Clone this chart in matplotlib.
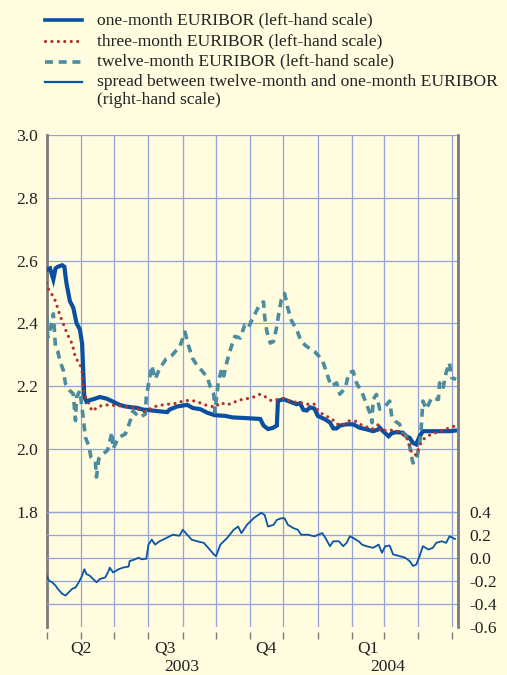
import numpy as np
import matplotlib
matplotlib.use('Agg')
import matplotlib.pyplot as plt
import matplotlib.dates as mdates
from matplotlib.lines import Line2D
from matplotlib.ticker import NullFormatter
from matplotlib.transforms import blended_transform_factory

plt.rcParams['font.family'] = ['Liberation Serif', 'DejaVu Serif']

# ---------------- data (days counted from 1 May 2003) ----------------
start = np.datetime64('2003-05-01')
end_date = np.datetime64('2004-05-07')

one_days = [0, 3, 6, 8, 10, 14, 16, 17, 18, 21,
            24, 27, 30, 32, 33, 34, 36, 39, 44, 48,
            54, 60, 66, 71, 75, 82, 87, 93, 100, 109,
            111, 118, 127, 132, 139, 145, 152, 161, 168, 184,
            193, 196, 200, 204, 208, 209, 214, 220, 226, 229,
            232, 235, 238, 242, 245, 251, 256, 259, 262, 265,
            271, 277, 283, 289, 295, 300, 301, 304, 309, 312,
            316, 322, 325, 328, 331, 334, 337, 340, 346, 355,
            364, 369]
one_vals = [2.57, 2.575, 2.54, 2.575, 2.58, 2.585, 2.58, 2.55, 2.525, 2.47,
            2.45, 2.40, 2.38, 2.335, 2.25, 2.165, 2.15, 2.155, 2.16, 2.165,
            2.16, 2.15, 2.14, 2.135, 2.133, 2.13, 2.125, 2.123, 2.12, 2.117,
            2.125, 2.135, 2.14, 2.13, 2.126, 2.115, 2.107, 2.105, 2.10, 2.097,
            2.095, 2.074, 2.063, 2.066, 2.074, 2.153, 2.158, 2.15, 2.142, 2.145,
            2.124, 2.122, 2.132, 2.128, 2.105, 2.095, 2.084, 2.065, 2.065, 2.074,
            2.078, 2.078, 2.067, 2.062, 2.056, 2.062, 2.067, 2.056, 2.04, 2.05,
            2.053, 2.051, 2.04, 2.035, 2.019, 2.014, 2.04, 2.056, 2.056, 2.056,
            2.056, 2.058]

three_days = [0, 2, 5, 8, 12, 17, 20, 23, 26, 30,
              32, 33, 35, 38, 41, 47, 53, 63, 71, 81,
              87, 98, 105, 117, 123, 130, 136, 143, 152, 157,
              163, 169, 173, 179, 187, 193, 199, 203, 209, 215,
              221, 229, 235, 242, 245, 251, 258, 262, 268, 273,
              279, 285, 289, 294, 300, 302, 307, 312, 318, 322,
              325, 328, 330, 334, 337, 339, 343, 349, 357, 364,
              370]
three_vals = [2.528, 2.505, 2.49, 2.47, 2.425, 2.38, 2.355, 2.335, 2.29, 2.27,
              2.245, 2.19, 2.165, 2.145, 2.12, 2.135, 2.14, 2.138, 2.135, 2.13,
              2.117, 2.135, 2.14, 2.145, 2.152, 2.155, 2.15, 2.14, 2.133, 2.147,
              2.14, 2.147, 2.155, 2.158, 2.165, 2.174, 2.163, 2.153, 2.157, 2.161,
              2.15, 2.147, 2.142, 2.142, 2.121, 2.107, 2.095, 2.079, 2.076, 2.089,
              2.088, 2.075, 2.07, 2.062, 2.078, 2.055, 2.06, 2.059, 2.055, 2.044,
              2.04, 2.009, 1.985, 1.98, 2.009, 2.025, 2.038, 2.049, 2.056, 2.067,
              2.074]

twelve_days = [0, 1, 5, 6, 7, 8, 10, 12, 15, 17,
               21, 24, 26, 27, 30, 33, 35, 38, 40, 44,
               45, 47, 51, 55, 59, 60, 65, 71, 75, 78,
               81, 84, 89, 90, 92, 95, 98, 102, 108, 113,
               117, 120, 125, 128, 132, 137, 140, 145, 148, 151,
               152, 155, 158, 160, 163, 166, 170, 175, 179, 182,
               187, 193, 196, 197, 199, 202, 205, 208, 210, 212,
               215, 218, 221, 226, 230, 235, 242, 249, 253, 257,
               262, 265, 270, 273, 277, 280, 285, 288, 292, 294,
               295, 298, 301, 306, 310, 312, 315, 319, 322, 327,
               329, 331, 334, 336, 338, 340, 343, 348, 354, 355,
               358, 361, 364, 366, 370]
twelve_vals = [2.42, 2.355, 2.405, 2.43, 2.375, 2.32, 2.31, 2.28, 2.25, 2.207,
               2.185, 2.175, 2.09, 2.165, 2.185, 2.1, 2.036, 2.01, 1.973, 1.96,
               1.91, 1.968, 1.984, 1.995, 2.053, 2.0, 2.036, 2.047, 2.084, 2.12,
               2.11, 2.1, 2.11, 2.164, 2.206, 2.265, 2.222, 2.255, 2.287, 2.297,
               2.313, 2.323, 2.372, 2.33, 2.287, 2.26, 2.25, 2.228, 2.197, 2.174,
               2.116, 2.21, 2.253, 2.232, 2.279, 2.316, 2.358, 2.353, 2.395, 2.385,
               2.421, 2.463, 2.468, 2.42, 2.374, 2.337, 2.342, 2.39, 2.437, 2.474,
               2.495, 2.447, 2.41, 2.379, 2.342, 2.326, 2.31, 2.284, 2.242, 2.2,
               2.21, 2.174, 2.195, 2.242, 2.247, 2.21, 2.179, 2.152, 2.115, 2.083,
               2.157, 2.173, 2.126, 2.136, 2.152, 2.099, 2.088, 2.078, 2.051, 2.03,
               1.987, 1.955, 1.96, 1.998, 2.04, 2.152, 2.126, 2.163, 2.157, 2.21,
               2.19, 2.243, 2.274, 2.227, 2.221]

spread_days = [0, 2, 5, 8, 10, 14, 17, 20, 23, 26,
               29, 32, 34, 36, 39, 42, 45, 48, 53, 56,
               57, 60, 65, 69, 74, 75, 80, 83, 86, 90,
               92, 95, 98, 102, 108, 114, 120, 123, 127, 131,
               136, 142, 146, 151, 153, 157, 163, 169, 173, 176,
               181, 187, 191, 194, 197, 200, 205, 208, 212, 215,
               218, 223, 227, 230, 236, 242, 249, 252, 256, 259,
               264, 268, 271, 274, 277, 282, 285, 289, 295, 300,
               303, 306, 310, 313, 319, 324, 328, 331, 334, 337,
               340, 345, 349, 352, 357, 361, 364, 369]
spread_vals = [-0.157, -0.2, -0.214, -0.243, -0.271, -0.314, -0.329, -0.3, -0.271, -0.26,
               -0.214, -0.157, -0.1, -0.143, -0.157, -0.186, -0.214, -0.186, -0.171, -0.114,
               -0.086, -0.129, -0.1, -0.086, -0.077, -0.029, -0.014, 0.0, -0.014, -0.009,
               0.114, 0.157, 0.114, 0.143, 0.171, 0.2, 0.191, 0.243, 0.2, 0.157,
               0.143, 0.129, 0.086, 0.029, 0.014, 0.114, 0.171, 0.243, 0.271, 0.214,
               0.286, 0.343, 0.371, 0.391, 0.371, 0.271, 0.286, 0.329, 0.343, 0.343,
               0.286, 0.257, 0.243, 0.2, 0.2, 0.186, 0.214, 0.171, 0.1, 0.143,
               0.143, 0.1, 0.129, 0.186, 0.171, 0.143, 0.114, 0.1, 0.086, 0.114,
               0.043, 0.1, 0.106, 0.029, 0.014, 0.0, -0.029, -0.071, -0.06, 0.014,
               0.1, 0.071, 0.086, 0.129, 0.143, 0.129, 0.186, 0.163]

left_ticks = [1.8, 2.0, 2.2, 2.4, 2.6, 2.8, 3.0]
right_ticks = [-0.6, -0.4, -0.2, 0.0, 0.2, 0.4]
quarter_labels = ['Q2', 'Q3', 'Q4', 'Q1']
quarter_mid = ['2003-06-01', '2003-08-16', '2003-11-15', '2004-02-15']
year_labels = ['2003', '2004']
year_mid = ['2003-08-31', '2004-03-04']
legend_labels = ['one-month EURIBOR (left-hand scale)',
                 'three-month EURIBOR (left-hand scale)',
                 'twelve-month EURIBOR (left-hand scale)',
                 'spread between twelve-month and one-month EURIBOR',
                 '(right-hand scale)']


def to_dates(days):
    return start + np.array(days).astype('timedelta64[D]')


# ---------------- style ----------------
BG = '#FFFCE0'
GRID = '#94A3D8'
SPINE = '#7A7A7A'
C_ONE = '#0A4FA0'
C_THREE = '#B0342A'
C_TWELVE = '#4B8C9E'
C_SPREAD = '#0A55A5'
FS = 12.6
DOTS = dict(color=C_THREE, lw=2.3, linestyle=(0, (0.01, 2.0)), dash_capstyle='round')
DASH = dict(color=C_TWELVE, lw=2.6, linestyle=(0, (2.2, 1.6)))

fig = plt.figure(figsize=(5.07, 6.75), dpi=100, facecolor=BG)
W, H = 507.0, 675.0
ax = fig.add_axes([46.7 / W, 1 - 626.7 / H, (458.3 - 46.7) / W, (626.7 - 135) / H])
ax.set_facecolor(BG)
ax2 = ax.twinx()

ax2.plot(to_dates(spread_days), spread_vals, color=C_SPREAD, lw=1.3, zorder=3)
ax.plot(to_dates(one_days), one_vals, color=C_ONE, lw=3.0, zorder=3,
        solid_joinstyle='miter')
ax.plot(to_dates(twelve_days), twelve_vals, zorder=4, **DASH)
ax.plot(to_dates(three_days), three_vals, zorder=5, **DOTS)

ax.set_xlim(start, end_date)
ax.set_ylim(1.433, 3.0)
ax2.set_ylim(-0.6, 3.676)

ax.set_yticks(left_ticks)
ax.set_yticklabels(['%.1f' % v for v in left_ticks])
ax2.set_yticks(right_ticks)
ax2.set_yticklabels(['%.1f' % v for v in right_ticks])
ax.tick_params(axis='y', length=0, pad=6, labelsize=FS, colors='#222222')
ax2.tick_params(axis='y', length=0, pad=8, labelsize=FS, colors='#222222')

ax.xaxis.set_major_locator(mdates.MonthLocator())
ax.xaxis.set_major_formatter(NullFormatter())
ax.tick_params(axis='x', direction='out', length=5, width=1, color=SPINE)

ax.grid(True, axis='both', color=GRID, lw=0.9)
ax2.grid(True, axis='y', color=GRID, lw=0.9)
ax.set_axisbelow(True)
ax2.set_axisbelow(True)
ax2.yaxis.get_gridlines()[0].set_visible(False)

for a in (ax, ax2):
    a.spines['top'].set_visible(False)
    a.spines['bottom'].set_visible(False)
    a.spines['bottom'].set_position(('outward', 4))
ax.spines['left'].set_color(SPINE)
ax.spines['left'].set_linewidth(2)
ax.spines['right'].set_visible(False)
ax2.spines['left'].set_visible(False)
ax2.spines['right'].set_color(SPINE)
ax2.spines['right'].set_linewidth(2)

trans = blended_transform_factory(ax.transData, ax.transAxes)
for lab, d in zip(quarter_labels, quarter_mid):
    ax.text(mdates.date2num(np.datetime64(d)), -0.044, lab, transform=trans,
            ha='center', va='center', fontsize=FS, color='#222222')
for lab, d in zip(year_labels, year_mid):
    ax.text(mdates.date2num(np.datetime64(d)), -0.081, lab, transform=trans,
            ha='center', va='center', fontsize=FS, color='#222222')

# ---------------- legend ----------------
rows = [20, 41, 61.5, 81.5, 100.5]
styles = [dict(color=C_ONE, lw=2.6), DOTS, DASH, dict(color=C_SPREAD, lw=1.6)]
for i, st in enumerate(styles):
    y = 1 - rows[i] / H
    fig.add_artist(Line2D([45 / W, 82 / W], [y, y], transform=fig.transFigure, **st))
for i, lab in enumerate(legend_labels):
    fig.text(96.7 / W, 1 - rows[i] / H, lab, ha='left', va='center',
             fontsize=FS, color='#222222')

fig.savefig('out.png', dpi=100, facecolor=BG)
